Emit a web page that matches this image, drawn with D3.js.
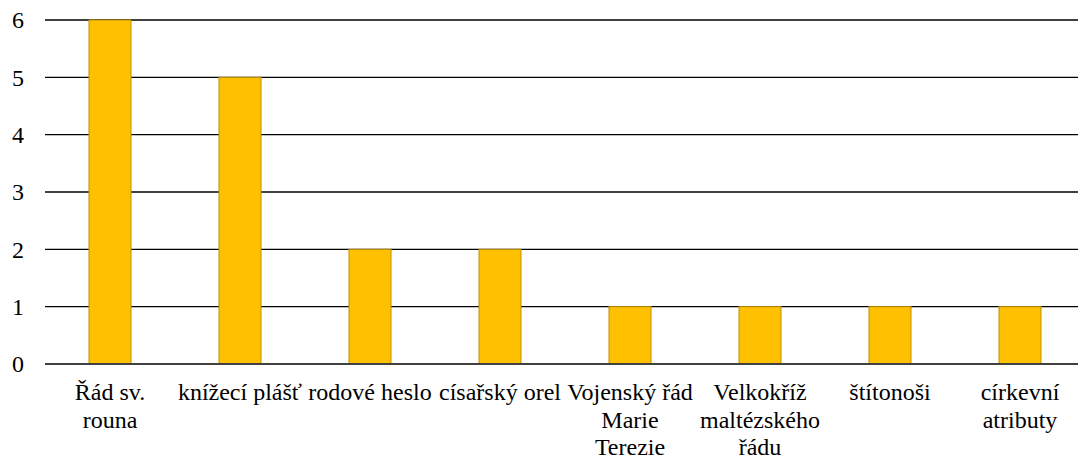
<!DOCTYPE html>
<html><head><meta charset="utf-8">
<script src="https://cdn.jsdelivr.net/npm/d3@7"></script>
<style>body{margin:0;background:#fff}svg{display:block}</style>
</head><body>
<svg id="c" width="1078" height="459"></svg>
<script>
const categories = ["Řád sv.\nrouna","knížecí plášť","rodové heslo","císařský orel","Vojenský řád\nMarie\nTerezie","Velkokříž\nmaltézského\nřádu","štítonoši","církevní\natributy"];
const values = [6,5,2,2,1,1,1,1];
const yTicks = [0,1,2,3,4,5,6];

const svg = d3.select("#c");
const mLeft = 45, mRight = 1085, mTop = 20, mBottom = 364;
const x = d3.scaleBand().domain(categories).range([mLeft, mRight]).padding(0);
const y = d3.scaleLinear().domain([0,6]).range([mBottom, mTop]);
const FONT = "Liberation Serif";

// gridlines
svg.append("g").selectAll("line").data(yTicks.filter(d=>d>0)).join("line")
  .attr("x1", mLeft).attr("x2", 1078)
  .attr("y1", d=>y(d)).attr("y2", d=>y(d))
  .attr("stroke", "#000").attr("stroke-width", 1.3);

// y tick labels
svg.append("g").selectAll("text").data(yTicks).join("text")
  .attr("x", 24).attr("y", d=>y(d)).attr("dy", "0.35em")
  .attr("text-anchor", "end").attr("fill", "#000")
  .attr("font-family", FONT).attr("font-size", 24)
  .text(d=>d);

// bars
const bw = 42;
svg.append("g").selectAll("rect").data(values).join("rect")
  .attr("x", (d,i)=>x(categories[i]) + x.bandwidth()/2 - bw/2)
  .attr("y", d=>y(d))
  .attr("width", bw)
  .attr("height", d=>y(0)-y(d))
  .attr("fill", "#FFC000")
  .attr("stroke", "#BF9000").attr("stroke-width", 1);

// baseline
svg.append("line").attr("x1", mLeft).attr("x2", 1078)
  .attr("y1", y(0)).attr("y2", y(0))
  .attr("stroke", "#404040").attr("stroke-width", 2);

// x labels
const lab = svg.append("g").selectAll("text").data(categories).join("text")
  .attr("text-anchor", "middle").attr("fill", "#000")
  .attr("font-family", FONT).attr("font-size", 24)
  .attr("transform", d=>`translate(${x(d)+x.bandwidth()/2},400)`);
lab.each(function(d){
  const t = d3.select(this);
  d.split("\n").forEach((s,k)=>{
    t.append("tspan").attr("x",0).attr("y", k*27.5).text(s);
  });
});
</script>
</body></html>
